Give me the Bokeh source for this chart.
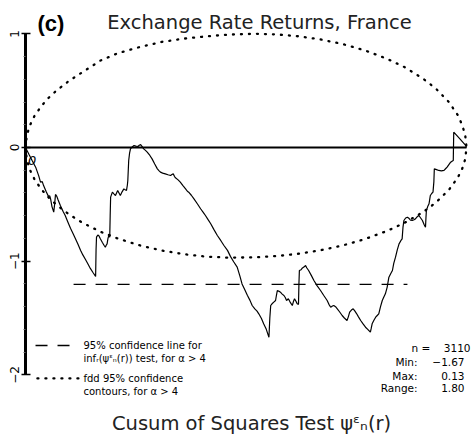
from bokeh.plotting import figure
from bokeh.models import Range1d, LinearAxis, FixedTicker
from bokeh.core.properties import value
from bokeh.embed import file_html
from bokeh.resources import INLINE

# ---------------- data ----------------
cusum_points = [
    (0.000, 0.000), (0.008, -0.062), (0.015, -0.114), (0.023, -0.173), (0.030, -0.250),
    (0.034, -0.305), (0.038, -0.300), (0.041, -0.335), (0.047, -0.390), (0.052, -0.430),
    (0.055, -0.425), (0.057, -0.455), (0.060, -0.520), (0.064, -0.569), (0.066, -0.500),
    (0.068, -0.413), (0.071, -0.430), (0.074, -0.462), (0.079, -0.510), (0.085, -0.560),
    (0.090, -0.598), (0.096, -0.655), (0.102, -0.710), (0.108, -0.758), (0.113, -0.800),
    (0.119, -0.852), (0.125, -0.906), (0.130, -0.945), (0.136, -0.985), (0.141, -1.020),
    (0.147, -1.064), (0.153, -1.100), (0.159, -1.135),
    (0.160, -0.900), (0.161, -0.789), (0.164, -0.770), (0.166, -0.774), (0.170, -0.805),
    (0.174, -0.833), (0.178, -0.860), (0.181, -0.877), (0.183, -0.860), (0.185, -0.848),
    (0.187, -0.800), (0.189, -0.774), (0.191, -0.790), (0.192, -0.600), (0.193, -0.437),
    (0.197, -0.393), (0.201, -0.410), (0.204, -0.422), (0.207, -0.395), (0.209, -0.378),
    (0.212, -0.400), (0.215, -0.422), (0.219, -0.390), (0.223, -0.364), (0.226, -0.372),
    (0.229, -0.378), (0.231, -0.330), (0.232, -0.290), (0.234, -0.114), (0.236, -0.050),
    (0.238, -0.012), (0.242, 0.005), (0.246, 0.018), (0.250, 0.012), (0.255, 0.009),
    (0.258, 0.020), (0.261, 0.026), (0.265, 0.005), (0.268, -0.012), (0.272, -0.025),
    (0.276, -0.041), (0.282, -0.070), (0.287, -0.100), (0.293, -0.145), (0.299, -0.188),
    (0.303, -0.205), (0.306, -0.217), (0.311, -0.225), (0.317, -0.232), (0.323, -0.240),
    (0.329, -0.246), (0.332, -0.238), (0.335, -0.232), (0.338, -0.255), (0.340, -0.267),
    (0.346, -0.285), (0.351, -0.305), (0.357, -0.335), (0.363, -0.364), (0.367, -0.385),
    (0.370, -0.393), (0.376, -0.420), (0.382, -0.452), (0.390, -0.497), (0.397, -0.539),
    (0.403, -0.570), (0.408, -0.598), (0.414, -0.635), (0.420, -0.671), (0.427, -0.720),
    (0.435, -0.774), (0.443, -0.820), (0.450, -0.862), (0.458, -0.905), (0.465, -0.960),
    (0.472, -1.005), (0.480, -1.053), (0.486, -1.130), (0.491, -1.200), (0.497, -1.250),
    (0.503, -1.300), (0.509, -1.345), (0.514, -1.390), (0.520, -1.420), (0.525, -1.440),
    (0.529, -1.463), (0.535, -1.505), (0.540, -1.551), (0.546, -1.600), (0.552, -1.670),
    (0.554, -1.500), (0.556, -1.390), (0.559, -1.375), (0.563, -1.360), (0.567, -1.346),
    (0.569, -1.300), (0.571, -1.258), (0.575, -1.265), (0.578, -1.273), (0.582, -1.290),
    (0.586, -1.302), (0.589, -1.320), (0.592, -1.346), (0.596, -1.330), (0.600, -1.360),
    (0.605, -1.390), (0.608, -1.350), (0.610, -1.331), (0.613, -1.350), (0.616, -1.375),
    (0.619, -1.380), (0.620, -1.200), (0.621, -1.082), (0.625, -1.075), (0.628, -1.060),
    (0.632, -1.050), (0.635, -1.038), (0.638, -1.060), (0.642, -1.082), (0.648, -1.125),
    (0.654, -1.170), (0.661, -1.215), (0.669, -1.258), (0.676, -1.300), (0.684, -1.346),
    (0.688, -1.380), (0.692, -1.405), (0.696, -1.395), (0.699, -1.390), (0.703, -1.400),
    (0.707, -1.419), (0.712, -1.445), (0.718, -1.478), (0.723, -1.500), (0.729, -1.522),
    (0.732, -1.490), (0.735, -1.449), (0.739, -1.430), (0.743, -1.419), (0.747, -1.440),
    (0.751, -1.463), (0.755, -1.490), (0.760, -1.522), (0.765, -1.550), (0.771, -1.581),
    (0.776, -1.600), (0.782, -1.625), (0.784, -1.590), (0.786, -1.551), (0.790, -1.520),
    (0.794, -1.493), (0.797, -1.480), (0.801, -1.463), (0.805, -1.400), (0.809, -1.346),
    (0.812, -1.320), (0.816, -1.287), (0.820, -1.230), (0.824, -1.141), (0.828, -1.110),
    (0.832, -1.082), (0.835, -1.020), (0.839, -0.965), (0.843, -0.900), (0.847, -0.848),
    (0.851, -0.820), (0.854, -0.804), (0.856, -0.700), (0.858, -0.642), (0.862, -0.620),
    (0.866, -0.613), (0.870, -0.625), (0.873, -0.640), (0.877, -0.642), (0.881, -0.635),
    (0.884, -0.628), (0.888, -0.610), (0.892, -0.598), (0.896, -0.620), (0.900, -0.642),
    (0.904, -0.680), (0.907, -0.701), (0.908, -0.620), (0.909, -0.554), (0.912, -0.520),
    (0.915, -0.495), (0.918, -0.422), (0.921, -0.405), (0.924, -0.393), (0.926, -0.300),
    (0.927, -0.188), (0.932, -0.195), (0.937, -0.202), (0.943, -0.205), (0.949, -0.202),
    (0.953, -0.185), (0.956, -0.173), (0.960, -0.150), (0.964, -0.129), (0.968, -0.118),
    (0.970, -0.114), (0.971, 0.135), (0.985, 0.075), (0.998, 0.018), (1.000, 0.000),
]

contour_r = [0, 0.003, 0.01, 0.02, 0.035, 0.05, 0.07, 0.1, 0.13, 0.17, 0.21, 0.26, 0.31,
             0.36, 0.41, 0.46, 0.52, 0.57, 0.62, 0.67, 0.72, 0.77, 0.82, 0.86, 0.9, 0.93,
             0.96, 0.98, 0.99, 0.997, 1.0]
contour_upper = [0, 0.107, 0.195, 0.275, 0.36, 0.428, 0.50, 0.59, 0.665, 0.765, 0.83,
                 0.885, 0.93, 0.958, 0.978, 0.993, 1.0, 0.995, 0.978, 0.95, 0.909, 0.854,
                 0.78, 0.706, 0.61, 0.52, 0.40, 0.286, 0.2, 0.11, 0]
contour_lower = [0, -0.108, -0.197, -0.277, -0.363, -0.43, -0.504, -0.592, -0.664, -0.741,
                 -0.802, -0.862, -0.907, -0.939, -0.96, -0.969, -0.967, -0.955, -0.934,
                 -0.903, -0.861, -0.805, -0.734, -0.662, -0.572, -0.486, -0.373, -0.266,
                 -0.189, -0.104, 0]

conf_line_r = [0.109, 0.866]
conf_line_level = [-1.205, -1.205]
zero_r = [0.0, 1.0]
zero_level = [0.0, 0.0]

y_ticks = [-2, -1, 0, 1]
y_tick_labels = ["−2", "−1", "0", "1"]

stats_labels = ["n =", "Min:", "Max:", "Range:"]
stats_values = ["3110", "−1.67", "0.13", "1.80"]

panel_label = "(c)"
title_text = "Exchange Rate Returns, France"
bottom_text = "Cusum of Squares Test ψᵋₙ(r)"
legend_texts = ["95% confidence line for", "infᵣ(ψᵋₙ(r)) test, for α > 4",
                "fdd 95% confidence", "contours, for α > 4"]

# ---------------- figure ----------------
FONT = "DejaVu Sans"
p = figure(width=474, height=434,
           x_range=Range1d(-0.0567, 1.0181), y_range=Range1d(-2.5249, 1.2932),
           x_axis_type=None, y_axis_type=None,
           toolbar_location=None, output_backend="svg", min_border=0)
p.outline_line_color = None
p.background_fill_color = "white"
p.border_fill_color = "white"

yaxis = LinearAxis(fixed_location=0, bounds=(-2, 1),
                   ticker=FixedTicker(ticks=y_ticks,
                                      minor_ticks=[-1.8, -1.6, -1.4, -1.2, -0.8, -0.6, -0.4,
                                                   -0.2, 0.2, 0.4, 0.6, 0.8]))
yaxis.major_label_overrides = {t: l for t, l in zip(y_ticks, y_tick_labels)}
yaxis.major_label_orientation = "vertical"
yaxis.major_label_text_font = FONT
yaxis.major_label_text_font_size = "12px"
yaxis.major_label_text_color = "black"
yaxis.major_label_standoff = 2
yaxis.axis_line_width = 3
yaxis.axis_line_color = "black"
yaxis.major_tick_line_width = 1.5
yaxis.major_tick_in = 5
yaxis.major_tick_out = 4
yaxis.minor_tick_in = 0
yaxis.minor_tick_out = 2
yaxis.minor_tick_line_color = "#666666"
p.add_layout(yaxis, "left")

# contours
dots = dict(line_color="black", line_width=2.3, line_dash="1 7", line_cap="round")
p.line(contour_r, contour_upper, **dots)
p.line(contour_r, contour_lower, **dots)

# zero line
p.line(zero_r, zero_level, line_color="black", line_width=2.2)

# confidence line
p.line(conf_line_r, conf_line_level, line_color="black", line_width=1.3, line_dash="12 10")

# cusum path
cx = [a for a, b in cusum_points]
cy = [b for a, b in cusum_points]
p.line(cx, cy, line_color="black", line_width=1.2)

# ---------------- texts ----------------
p.text([0.027], [1.091], text=[panel_label], text_font=value("Liberation Sans"),
       text_font_style="bold", text_font_size="22px", text_baseline="middle",
       text_align="left", text_color="black")
p.text([0.5306], [1.100], text=[title_text], text_font=value(FONT),
       text_font_size="19.5px", text_baseline="middle", text_align="center",
       text_color="#222222")
p.text([0.5125], [-2.430], text=[bottom_text], text_font=value(FONT),
       text_font_size="19.5px", text_baseline="middle", text_align="center",
       text_color="#222222")
p.text([0.0150], [-0.114], text=["0"], text_font=value(FONT), text_font_size="13px",
       text_baseline="middle", text_align="center", text_color="black",
       text_font_style="italic")

# legend
p.line([0.0227, 0.102], [-1.742, -1.742], line_color="black", line_width=1.3,
       line_dash="12 10")
p.line([0.027, 0.128], [-2.032, -2.032], **dots)
p.text([0.1315] * 4, [-1.742, -1.856, -2.032, -2.147], text=legend_texts,
       text_font=value(FONT), text_font_size="10px", text_baseline="middle",
       text_align="left", text_color="black")

# stats
p.text([0.918, 0.889, 0.889, 0.889], [-1.760, -1.891, -2.006, -2.120], text=stats_labels,
       text_font=value(FONT), text_font_size="10.5px", text_baseline="middle",
       text_align="right", text_color="black")
p.text([1.009, 0.9955, 0.9955, 0.9955], [-1.760, -1.891, -2.006, -2.120], text=stats_values,
       text_font=value(FONT), text_font_size="10.5px", text_baseline="middle",
       text_align="right", text_color="black")

open("out.html", "w").write(file_html(p, INLINE))
